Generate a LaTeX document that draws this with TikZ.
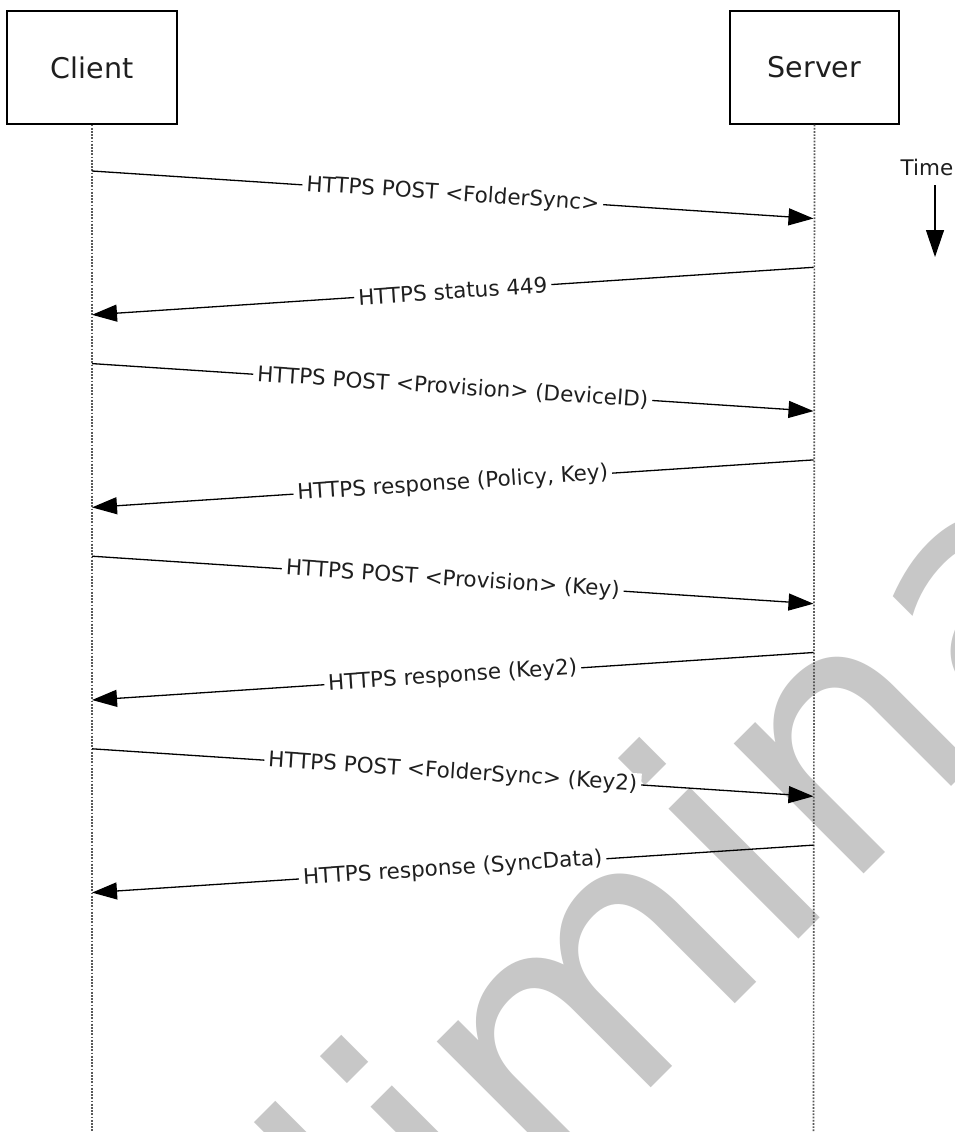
\documentclass[tikz,border=0pt]{standalone}
\usepackage{fontspec}
\setmainfont{DejaVu Sans}
\usetikzlibrary{arrows.meta}
\definecolor{wm}{gray}{0.78}
\definecolor{txt}{gray}{0.12}
\begin{document}
\begin{tikzpicture}[x=1pt,y=-1pt,
  actor/.style={draw=black, line width=1.3pt, minimum width=170pt, minimum height=113pt, font=\fontsize{28.5}{32}\selectfont, text=txt, inner sep=0pt},
  lifeline/.style={draw=black!65, line width=1.7pt, dash pattern=on 1.7pt off 1.5pt},
  msg/.style={line width=1.3pt, -{Triangle[length=25pt,width=17pt]}},
  lbl/.style={midway, sloped, fill=white, inner xsep=4pt, inner ysep=1pt, font=\fontsize{21.5}{25}\selectfont, text=txt},
]
\useasboundingbox (0,0) rectangle (955,1132);
\fill[white] (0,0) rectangle (955,1132);

% watermark
\begin{scope}
\clip (0,0) rectangle (955,1132);
\node[anchor=base west, rotate=45, inner sep=0pt, text=wm, font=\fontsize{336}{340}\selectfont] (wmark) at (35,1703) {Preliminary};
\end{scope}

% actors
\node[actor] (cl) at (92,67.5) {Client};
\node[actor, minimum width=169pt] (sv) at (814.5,67.5) {Server};

\coordinate (clend) at (92,1132);
\coordinate (svend) at (813.5,1132);
\draw[lifeline] (cl.south) -- (clend);
\draw[lifeline] (sv.south) -- (svend);

% message endpoints
\coordinate (c1) at (92,171);    \coordinate (s1) at (813.5,218.5);
\coordinate (s2) at (813.5,267.3); \coordinate (c2) at (92,314.8);
\coordinate (c3) at (92,363.6);  \coordinate (s3) at (813.5,411.1);
\coordinate (s4) at (813.5,459.9); \coordinate (c4) at (92,507.4);
\coordinate (c5) at (92,556.2);  \coordinate (s5) at (813.5,603.7);
\coordinate (s6) at (813.5,652.5); \coordinate (c6) at (92,700);
\coordinate (c7) at (92,748.8);  \coordinate (s7) at (813.5,796.3);
\coordinate (s8) at (813.5,845.1); \coordinate (c8) at (92,892.6);

\draw[msg] (c1) -- node[lbl] (m1) {HTTPS POST <FolderSync>} (s1);
\draw[msg] (s2) -- node[lbl] (m2) {HTTPS status 449} (c2);
\draw[msg] (c3) -- node[lbl] (m3) {HTTPS POST <Provision> (DeviceID)} (s3);
\draw[msg] (s4) -- node[lbl] (m4) {HTTPS response (Policy, Key)} (c4);
\draw[msg] (c5) -- node[lbl] (m5) {HTTPS POST <Provision> (Key)} (s5);
\draw[msg] (s6) -- node[lbl] (m6) {HTTPS response (Key2)} (c6);
\draw[msg] (c7) -- node[lbl] (m7) {HTTPS POST <FolderSync> (Key2)} (s7);
\draw[msg] (s8) -- node[lbl] (m8) {HTTPS response (SyncData)} (c8);

% time
\node[font=\fontsize{21.5}{25}\selectfont, text=txt, inner sep=0pt] (time) at (927,167) {Time};
\coordinate (t1) at (935,185);
\coordinate (t2) at (935,257);
\draw[line width=1.3pt, -{Triangle[length=27pt,width=18pt]}] (t1) -- (t2);
\end{tikzpicture}
\end{document}
